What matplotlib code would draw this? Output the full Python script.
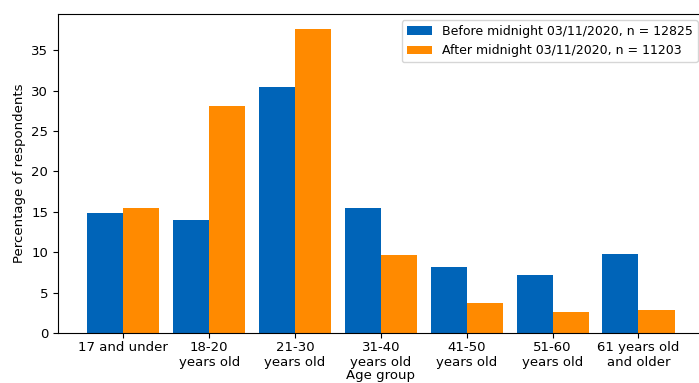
import numpy as np
import matplotlib
matplotlib.use("Agg")
import matplotlib.pyplot as plt

# ------------------- data -------------------
age_groups = ["17 and under", "18-20\nyears old", "21-30\nyears old", "31-40\nyears old",
              "41-50\nyears old", "51-60\nyears old", "61 years old\nand older"]
before = [14.9, 14.0, 30.5, 15.5, 8.2, 7.2, 9.8]
after = [15.5, 28.1, 37.6, 9.6, 3.7, 2.6, 2.8]
before_label = "Before midnight 03/11/2020, n = 12825"
after_label = "After midnight 03/11/2020, n = 11203"

# ------------------- plot -------------------
fig = plt.figure(figsize=(6.99, 3.83), dpi=100)
ax = fig.add_axes([0.083, 0.1305, 0.924, 0.833])

x = np.arange(len(age_groups))
w = 0.42
ax.bar(x - w / 2, before, w, color="#0064b8", label=before_label)
ax.bar(x + w / 2, after, w, color="#ff8a00", label=after_label)

ax.set_xticks(x)
ax.set_xticklabels(age_groups, fontsize=9.5)
ax.tick_params(axis="x", pad=2.5)
ax.set_xlabel("Age group", labelpad=0, fontsize=9.5)
ax.set_ylabel("Percentage of respondents", fontsize=9.5)
ax.tick_params(axis="y", labelsize=9.5)
ax.legend(loc="upper right", fontsize=9)

fig.savefig("out.png", dpi=100)
